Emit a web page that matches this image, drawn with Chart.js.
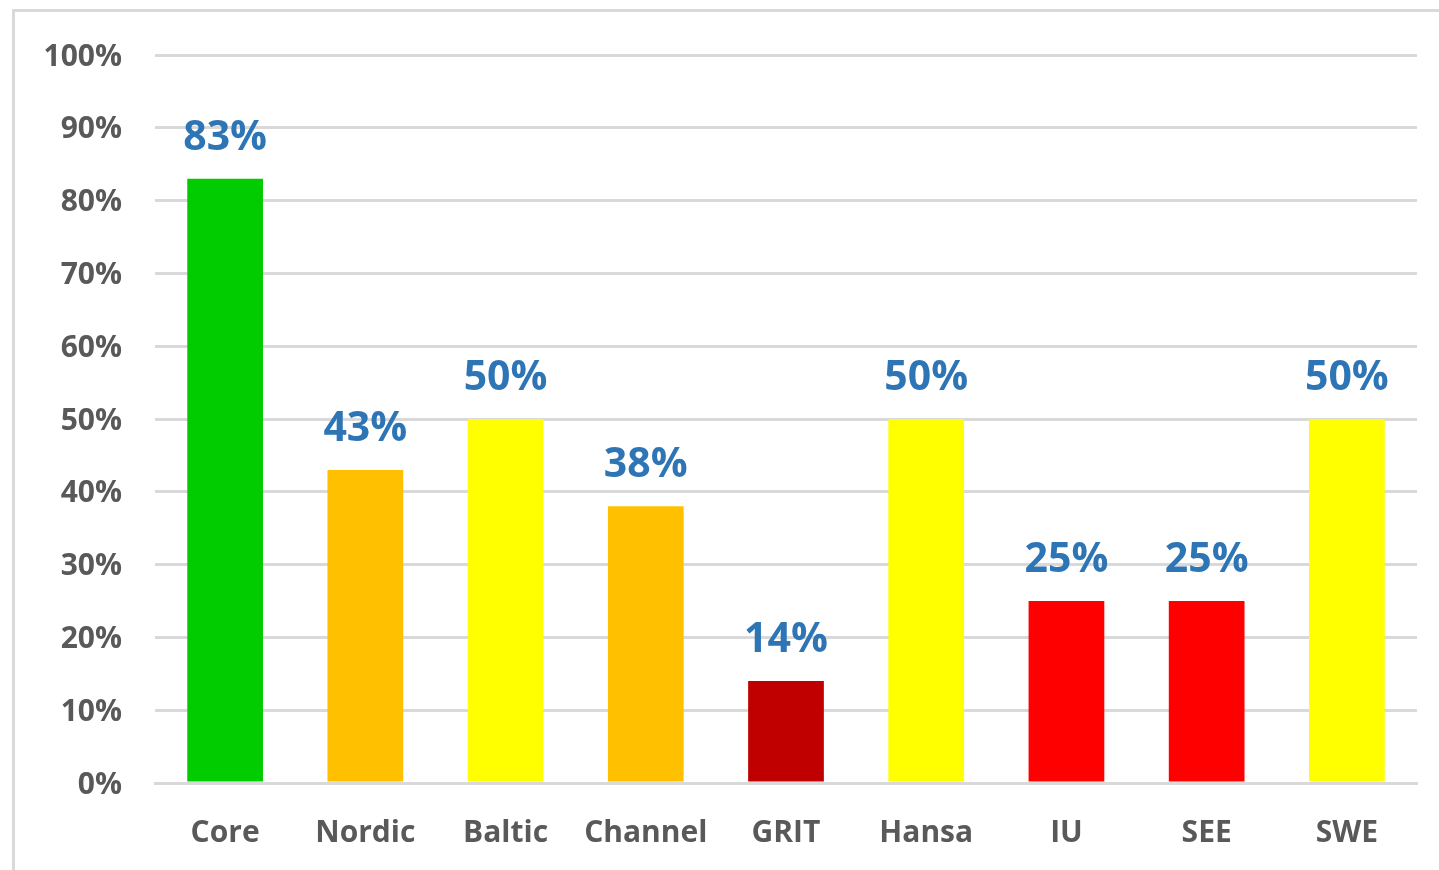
<!DOCTYPE html>
<html>
<head>
<meta charset="utf-8">
<script src="https://cdn.jsdelivr.net/npm/chart.js@4/dist/chart.umd.min.js"></script>
<style>
    html, body { margin: 0; padding: 0; background: #ffffff; overflow: hidden; }
    .frame {
        position: absolute;
        left: 12px;
        top: 9px;
        width: 1500px;
        height: 950px;
        border: 3px solid #d9d9d9;
    }
    .chart-box {
        position: absolute;
        left: 0;
        top: 0;
        width: 1439px;
        height: 870px;
    }
</style>
</head>
<body>
<div class="frame"></div>
<div class="chart-box"><canvas id="regionChart"></canvas></div>
<script>
const categories = ["Core", "Nordic", "Baltic", "Channel", "GRIT", "Hansa", "IU", "SEE", "SWE"];
const shares = [83, 43, 50, 38, 14, 50, 25, 25, 50];
const barColors = ["#00cc00", "#ffc000", "#ffff00", "#ffc000", "#c00000", "#ffff00", "#ff0000", "#ff0000", "#ffff00"];
const yTicks = [0, 10, 20, 30, 40, 50, 60, 70, 80, 90, 100];

const FONT = "'Open Sans', 'DejaVu Sans', sans-serif";

// draws the blue value labels above each bar
const valueLabels = {
    id: "valueLabels",
    afterDatasetsDraw(chart) {
        const ctx = chart.ctx;
        const meta = chart.getDatasetMeta(0);
        ctx.save();
        ctx.font = "bold 41px " + FONT;
        ctx.fillStyle = "#2e75b6";
        ctx.textAlign = "center";
        ctx.textBaseline = "alphabetic";
        meta.data.forEach(function (bar, i) {
            ctx.fillText(shares[i] + "%", bar.x, bar.y - 29);
        });
        ctx.restore();
    }
};

new Chart(document.getElementById("regionChart"), {
    type: "bar",
    data: {
        labels: categories,
        datasets: [{
            data: shares,
            backgroundColor: barColors,
            borderWidth: 0,
            categoryPercentage: 1,
            barPercentage: 0.54
        }]
    },
    options: {
        responsive: true,
        maintainAspectRatio: false,
        animation: false,
        layout: {
            padding: { top: 55, right: 22, bottom: 0, left: 0 }
        },
        plugins: {
            legend: { display: false },
            tooltip: { enabled: false }
        },
        scales: {
            x: {
                grid: { display: false, drawTicks: false },
                border: { display: true, color: "#d9d9d9", width: 3 },
                ticks: {
                    color: "#595959",
                    padding: 32,
                    font: { family: FONT, size: 30, weight: "bold" }
                },
                afterFit: function (scale) { scale.height = 87; }
            },
            y: {
                min: 0,
                max: 100,
                afterBuildTicks: function (scale) {
                    scale.ticks = yTicks.map(function (v) { return { value: v }; });
                },
                grid: { color: "#d9d9d9", lineWidth: 3, drawTicks: false },
                border: { display: false },
                ticks: {
                    color: "#595959",
                    padding: 33,
                    labelOffset: 2,
                    font: { family: FONT, size: 30, weight: "bold" },
                    callback: function (value) { return value + "%"; }
                },
                afterFit: function (scale) { scale.width = 155; }
            }
        }
    },
    plugins: [valueLabels]
});
</script>
</body>
</html>
